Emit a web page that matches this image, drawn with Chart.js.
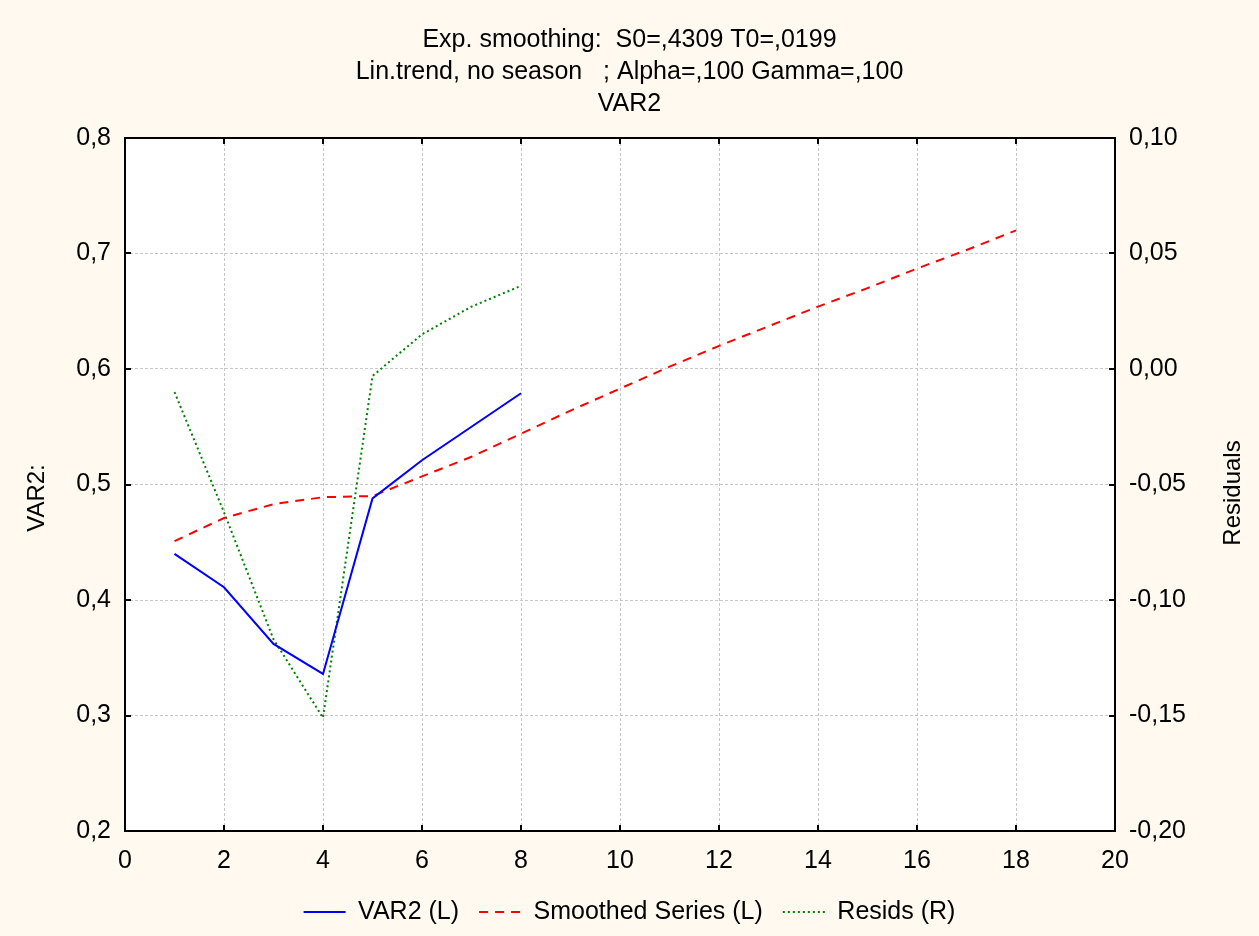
<!DOCTYPE html>
<html>
<head>
<meta charset="utf-8">
<script src="https://cdn.jsdelivr.net/npm/chart.js@4/dist/chart.umd.min.js"></script>
<style>
  html, body { margin: 0; padding: 0; background: #FFF9EF; }
  #wrap { width: 1259px; height: 936px; }
</style>
</head>
<body>
<div id="wrap"><canvas id="c" width="1259" height="936"></canvas></div>
<script>
// ---- data ----
const titleLines = ['Exp. smoothing:  S0=,4309 T0=,0199', 'Lin.trend, no season   ; Alpha=,100 Gamma=,100', 'VAR2'];
const seriesNames = ['VAR2 (L)', 'Smoothed Series (L)', 'Resids (R)'];
const leftAxisTitle = 'VAR2:';
const rightAxisTitle = 'Residuals';

const obsX = [1, 2, 3, 4, 5, 6, 7, 8];
const var2 = [0.440, 0.411, 0.362, 0.336, 0.488, 0.521, 0.550, 0.579];

const smoothX = [1, 2, 3, 4, 5, 6, 7, 8, 9, 10, 11, 12, 13, 14, 15, 16, 17, 18];
const smoothed = [0.451, 0.471, 0.483, 0.489, 0.490, 0.507, 0.524, 0.544, 0.564, 0.583, 0.602, 0.620, 0.637, 0.654, 0.670, 0.687, 0.703, 0.720];

const residX = [1, 2, 3, 4, 5, 6, 7, 8];
const resids = [-0.010, -0.062, -0.117, -0.151, -0.003, 0.015, 0.027, 0.036];

const xTicks = { min: 0, max: 20, step: 2 };
const yTicks = { min: 0.2, max: 0.8, step: 0.1 };
const y1Ticks = { min: -0.2, max: 0.1, step: 0.05 };

// ---- chart ----
const FONT = '"Liberation Sans", Arial, sans-serif';
Chart.defaults.font.family = FONT;
Chart.defaults.font.size = 25;
Chart.defaults.color = '#000';

const toPts = (xs, ys) => xs.map((x, i) => ({ x: x, y: ys[i] }));
const comma = (v, d) => {
  if (Math.abs(v) < 1e-9) v = 0;
  return v.toFixed(d).replace('.', ',');
};

const framePlugin = {
  id: 'frame',
  beforeDraw(chart) {
    const { ctx, chartArea: a } = chart;
    ctx.save();
    ctx.fillStyle = '#FFF9EF';
    ctx.fillRect(0, 0, chart.width, chart.height);
    ctx.fillStyle = '#FFFFFF';
    ctx.fillRect(a.left, a.top, a.right - a.left, a.bottom - a.top);
    ctx.restore();
  },
  afterDraw(chart) {
    const { ctx, chartArea: a, scales } = chart;
    ctx.save();
    ctx.strokeStyle = '#000';
    ctx.lineWidth = 2;
    ctx.setLineDash([]);
    ctx.strokeRect(a.left, a.top, a.right - a.left, a.bottom - a.top);
    const L = 6;
    ctx.beginPath();
    scales.x.ticks.forEach(t => {
      const p = Math.round(scales.x.getPixelForValue(t.value));
      ctx.moveTo(p, a.bottom); ctx.lineTo(p, a.bottom - L);
      ctx.moveTo(p, a.top); ctx.lineTo(p, a.top + L);
    });
    scales.y.ticks.forEach(t => {
      const p = Math.round(scales.y.getPixelForValue(t.value));
      ctx.moveTo(a.left, p); ctx.lineTo(a.left + L, p);
    });
    scales.y1.ticks.forEach(t => {
      const p = Math.round(scales.y1.getPixelForValue(t.value));
      ctx.moveTo(a.right, p); ctx.lineTo(a.right - L, p);
    });
    ctx.stroke();
    // axis titles (both read bottom-to-top)
    ctx.fillStyle = '#000';
    ctx.font = '24px ' + FONT;
    ctx.textAlign = 'center';
    ctx.textBaseline = 'middle';
    ctx.save();
    ctx.translate(37, 498);
    ctx.rotate(-Math.PI / 2);
    ctx.fillText(leftAxisTitle, 0, 0);
    ctx.restore();
    ctx.save();
    ctx.translate(1233, 493);
    ctx.rotate(-Math.PI / 2);
    ctx.fillText(rightAxisTitle, 0, 0);
    ctx.restore();
    ctx.restore();
  }
};

const gridColor = '#C8C8C8';

new Chart(document.getElementById('c'), {
  type: 'line',
  data: {
    datasets: [
      {
        label: seriesNames[0], data: toPts(obsX, var2), yAxisID: 'y',
        borderColor: '#0000FF', backgroundColor: '#0000FF', borderWidth: 2, borderDash: [],
        pointRadius: 0, pointStyle: 'line', tension: 0, fill: false
      },
      {
        label: seriesNames[1], data: toPts(smoothX, smoothed), yAxisID: 'y',
        borderColor: '#FF0000', backgroundColor: '#FF0000', borderWidth: 2, borderDash: [9, 7],
        pointRadius: 0, pointStyle: 'line', tension: 0, fill: false
      },
      {
        label: seriesNames[2], data: toPts(residX, resids), yAxisID: 'y1',
        borderColor: '#008000', backgroundColor: '#008000', borderWidth: 2, borderDash: [2, 3],
        pointRadius: 0, pointStyle: 'line', tension: 0, fill: false
      }
    ]
  },
  options: {
    responsive: false,
    animation: false,
    layout: { padding: { top: 24, bottom: 1.5, left: 0, right: 0 } },
    plugins: {
      title: {
        display: true, text: titleLines,
        font: { size: 25, weight: 'normal', lineHeight: 1.28 },
        color: '#000', padding: { top: 0, bottom: 18 }
      },
      legend: {
        display: true, position: 'bottom',
        labels: {
          usePointStyle: true, pointStyleWidth: 42, padding: 20,
          font: { size: 25 }, color: '#000',
          generateLabels(chart) {
            return chart.data.datasets.map((ds, i) => ({
              text: ds.label,
              fillStyle: ds.borderColor,
              strokeStyle: ds.borderColor,
              lineWidth: ds.borderWidth,
              lineDash: ds.borderDash || [],
              lineDashOffset: 0,
              pointStyle: 'line',
              fontColor: '#000',
              hidden: false,
              datasetIndex: i
            }));
          }
        }
      },
      tooltip: { enabled: false }
    },
    scales: {
      x: {
        type: 'linear', position: 'bottom',
        min: xTicks.min, max: xTicks.max,
        ticks: { stepSize: xTicks.step, padding: 15, callback: v => String(v), font: { size: 25 }, color: '#000' },
        grid: { color: gridColor, lineWidth: 1, drawTicks: false },
        border: { display: false, dash: [3, 2] },
        afterFit(s) { s.height = 48.5; }
      },
      y: {
        type: 'linear', position: 'left',
        min: yTicks.min, max: yTicks.max,
        ticks: { stepSize: yTicks.step, padding: 14, callback: v => comma(v, 1), font: { size: 25 }, color: '#000' },
        grid: { color: gridColor, lineWidth: 1, drawTicks: false },
        border: { display: false, dash: [3, 2] },
        afterFit(s) { s.width = 125; }
      },
      y1: {
        type: 'linear', position: 'right',
        min: y1Ticks.min, max: y1Ticks.max,
        ticks: { stepSize: y1Ticks.step, padding: 14, callback: v => comma(v, 2), font: { size: 25 }, color: '#000' },
        grid: { drawOnChartArea: false, drawTicks: false },
        border: { display: false },
        afterFit(s) { s.width = 144; }
      }
    }
  },
  plugins: [framePlugin]
});
</script>
</body>
</html>
